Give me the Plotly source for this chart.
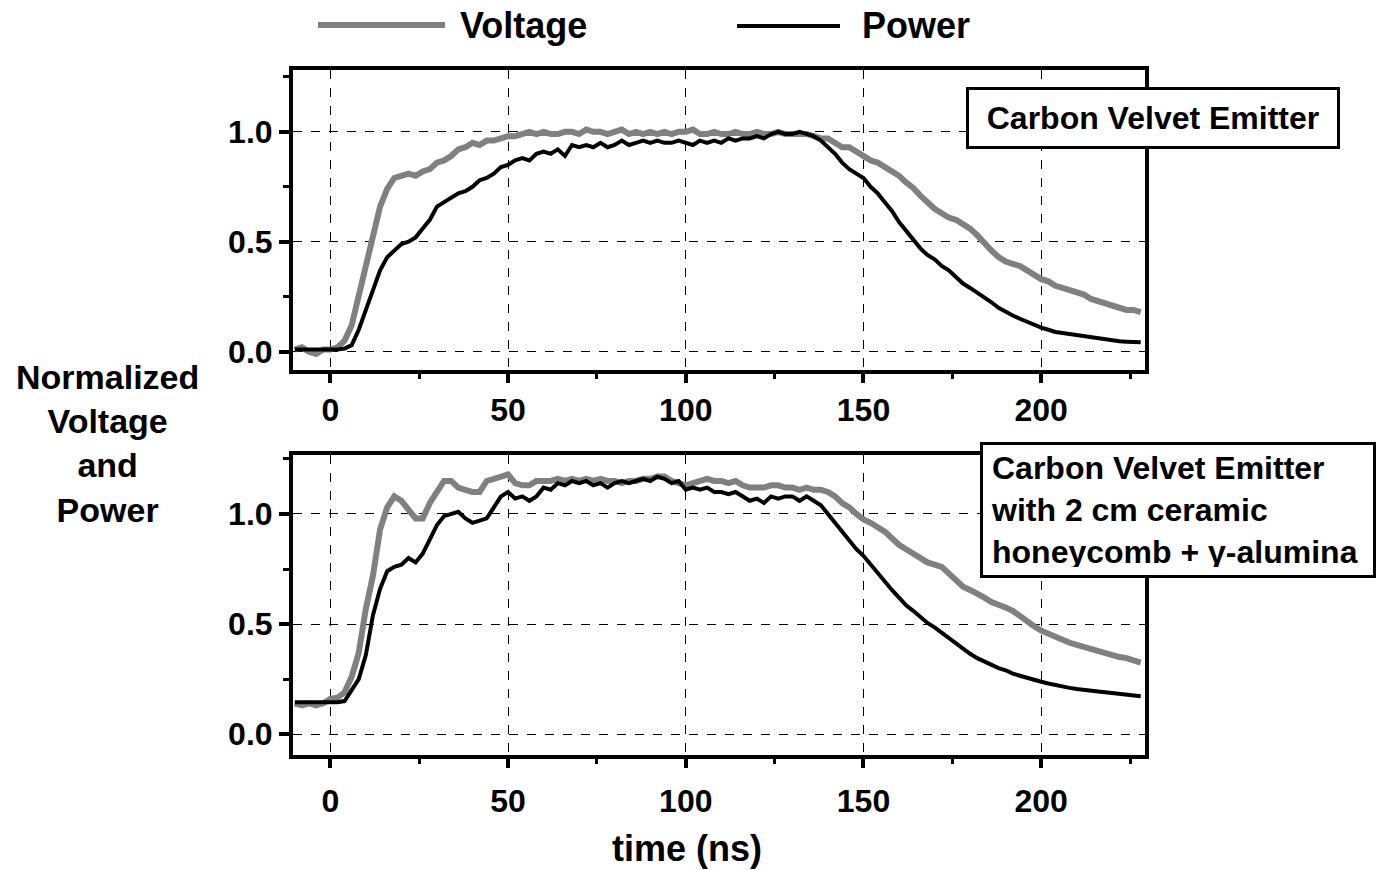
import plotly.graph_objects as go

# Shared time base (ns), 2 ns sampling
time_ns = list(range(-10, 230, 2))

# Carbon velvet emitter
voltage_cv = [
    0.01, 0.02, 0.00, -0.01, 0.01, 0.01, 0.02, 0.05, 0.12, 0.25,
    0.40, 0.53, 0.66, 0.74, 0.79, 0.80, 0.81, 0.80, 0.82, 0.83,
    0.86, 0.87, 0.89, 0.92, 0.93, 0.95, 0.94, 0.96, 0.96, 0.97,
    0.98, 0.98, 0.99, 1.00, 0.99, 1.00, 0.99, 0.99, 1.00, 1.00,
    0.99, 1.01, 1.00, 1.00, 0.99, 1.00, 1.01, 0.99, 1.00, 0.99,
    1.00, 0.99, 1.00, 0.99, 1.00, 1.00, 1.01, 0.99, 0.99, 1.00,
    0.99, 0.99, 1.00, 0.99, 0.99, 1.00, 0.99, 0.99, 1.00, 0.99,
    0.99, 0.99, 0.99, 0.98, 0.97, 0.97, 0.95, 0.93, 0.93, 0.91,
    0.89, 0.87, 0.86, 0.84, 0.82, 0.80, 0.77, 0.745, 0.71, 0.68,
    0.65, 0.63, 0.61, 0.60, 0.58, 0.56, 0.53, 0.49, 0.46, 0.43,
    0.41, 0.40, 0.39, 0.37, 0.35, 0.33, 0.32, 0.30, 0.29, 0.28,
    0.27, 0.26, 0.24, 0.23, 0.22, 0.21, 0.20, 0.19, 0.19, 0.18,
]
power_cv = [
    0.01, 0.01, 0.01, 0.01, 0.01, 0.01, 0.01, 0.015, 0.03, 0.10,
    0.19, 0.27, 0.37, 0.43, 0.46, 0.49, 0.50, 0.52, 0.56, 0.60,
    0.66, 0.68, 0.70, 0.72, 0.73, 0.75, 0.78, 0.79, 0.81, 0.84,
    0.85, 0.87, 0.88, 0.87, 0.90, 0.91, 0.90, 0.92, 0.89, 0.94,
    0.93, 0.94, 0.93, 0.95, 0.93, 0.94, 0.96, 0.94, 0.95, 0.96,
    0.95, 0.96, 0.95, 0.95, 0.96, 0.95, 0.94, 0.96, 0.95, 0.96,
    0.95, 0.97, 0.96, 0.97, 0.97, 0.98, 0.97, 0.99, 1.00, 0.99,
    0.99, 1.00, 0.99, 0.98, 0.96, 0.93, 0.90, 0.86, 0.83, 0.81,
    0.79, 0.75, 0.72, 0.68, 0.64, 0.59, 0.55, 0.51, 0.47, 0.44,
    0.42, 0.39, 0.37, 0.34, 0.31, 0.29, 0.27, 0.245, 0.225, 0.20,
    0.18, 0.165, 0.15, 0.135, 0.12, 0.11, 0.10, 0.09, 0.085, 0.08,
    0.075, 0.07, 0.064, 0.06, 0.055, 0.05, 0.048, 0.046, 0.044, 0.043,
]

# Carbon velvet emitter with ceramic honeycomb + gamma-alumina
voltage_hc = [
    0.14, 0.13, 0.14, 0.13, 0.14, 0.16, 0.165, 0.19, 0.26, 0.37,
    0.57, 0.72, 0.93, 1.03, 1.08, 1.06, 1.02, 0.98, 0.98, 1.05,
    1.10, 1.15, 1.15, 1.12, 1.11, 1.10, 1.10, 1.15, 1.16, 1.17,
    1.18, 1.14, 1.13, 1.13, 1.15, 1.15, 1.15, 1.16, 1.15, 1.16,
    1.15, 1.16, 1.15, 1.16, 1.15, 1.15, 1.14, 1.15, 1.15, 1.16,
    1.16, 1.17, 1.17, 1.15, 1.14, 1.13, 1.14, 1.15, 1.16, 1.15,
    1.15, 1.14, 1.15, 1.13, 1.12, 1.12, 1.12, 1.13, 1.13, 1.12,
    1.12, 1.11, 1.12, 1.11, 1.11, 1.10, 1.08, 1.05, 1.03, 1.00,
    0.975, 0.96, 0.94, 0.92, 0.89, 0.86, 0.84, 0.82, 0.80, 0.78,
    0.77, 0.76, 0.73, 0.70, 0.67, 0.655, 0.64, 0.62, 0.60, 0.59,
    0.575, 0.56, 0.535, 0.515, 0.49, 0.47, 0.455, 0.44, 0.43, 0.415,
    0.405, 0.395, 0.385, 0.375, 0.365, 0.36, 0.35, 0.345, 0.335, 0.325,
]
power_hc = [
    0.145, 0.145, 0.145, 0.145, 0.145, 0.145, 0.145, 0.15, 0.20, 0.25,
    0.36, 0.54, 0.66, 0.74, 0.76, 0.77, 0.80, 0.78, 0.82, 0.89,
    0.95, 0.99, 1.00, 1.01, 0.98, 0.96, 0.97, 0.98, 1.03, 1.08,
    1.10, 1.07, 1.08, 1.06, 1.08, 1.12, 1.11, 1.14, 1.13, 1.15,
    1.14, 1.15, 1.13, 1.14, 1.12, 1.14, 1.15, 1.14, 1.15, 1.16,
    1.15, 1.17, 1.16, 1.14, 1.15, 1.11, 1.12, 1.11, 1.12, 1.10,
    1.10, 1.09, 1.10, 1.08, 1.06, 1.07, 1.05, 1.08, 1.07, 1.08,
    1.08, 1.06, 1.08, 1.06, 1.04, 1.00, 0.96, 0.92, 0.88, 0.84,
    0.81, 0.77, 0.73, 0.69, 0.655, 0.62, 0.585, 0.56, 0.53, 0.505,
    0.485, 0.46, 0.435, 0.41, 0.385, 0.365, 0.345, 0.33, 0.315, 0.30,
    0.29, 0.275, 0.265, 0.255, 0.245, 0.238, 0.23, 0.222, 0.215, 0.21,
    0.205, 0.20, 0.198, 0.194, 0.19, 0.186, 0.183, 0.18, 0.175, 0.172,
]

x_ticks = [0, 50, 100, 150, 200]
y_ticks = [0.0, 0.5, 1.0]
panel_labels = [
    "Carbon Velvet Emitter",
    "Carbon Velvet Emitter<br>with 2 cm ceramic<br>honeycomb + γ-alumina",
]

W, H = 1388, 870
FONT = "Liberation Sans, Arial, sans-serif"
GRAY = "#808080"


def px_x(p):
    return p / W


def px_y(p):
    return 1 - p / H


fig = go.Figure()

series = [
    ("x", "y", voltage_cv, power_cv),
    ("x2", "y2", voltage_hc, power_hc),
]
for xa, ya, v, p in series:
    fig.add_trace(go.Scatter(x=time_ns, y=v, mode="lines", xaxis=xa, yaxis=ya,
                             line=dict(color=GRAY, width=6), showlegend=False))
    fig.add_trace(go.Scatter(x=time_ns, y=p, mode="lines", xaxis=xa, yaxis=ya,
                             line=dict(color="black", width=4), showlegend=False))

xdomain = [px_x(293), px_x(1145)]

common_x = dict(
    range=[-10.5, 229.2], domain=xdomain, tickvals=x_ticks,
    showline=True, linewidth=4, linecolor="black", mirror=True,
    ticks="outside", ticklen=9, tickwidth=4, tickcolor="black",
    minor=dict(ticks="outside", ticklen=5, tickwidth=3, tickcolor="black", dtick=25, tick0=0),
    showgrid=True, gridcolor="black", gridwidth=1, griddash="dash",
    zeroline=False,
    tickfont=dict(family=FONT, size=32, color="black", weight="bold"),
)
common_y = dict(
    tickvals=y_ticks, tickformat=".1f",
    showline=True, linewidth=4, linecolor="black", mirror=True,
    ticks="outside", ticklen=10, tickwidth=4, tickcolor="black",
    minor=dict(ticks="outside", ticklen=6, tickwidth=3, tickcolor="black", dtick=0.25, tick0=0),
    showgrid=True, gridcolor="black", gridwidth=1, griddash="dash",
    zeroline=False,
    tickfont=dict(family=FONT, size=32, color="black", weight="bold"),
)

fig.update_layout(
    width=W, height=H,
    margin=dict(l=0, r=0, t=0, b=0),
    paper_bgcolor="white", plot_bgcolor="white",
    xaxis=dict(common_x, anchor="y"),
    yaxis=dict(common_y, range=[-0.083, 1.281], domain=[px_y(370), px_y(70)], anchor="x"),
    xaxis2=dict(common_x, anchor="y2", ticklabelstandoff=6),
    yaxis2=dict(common_y, range=[-0.095, 1.268], domain=[px_y(755), px_y(455)], anchor="x2"),
)

# Legend drawn across the top
fig.add_shape(type="line", xref="paper", yref="paper",
              x0=px_x(318), x1=px_x(445), y0=px_y(25), y1=px_y(25),
              line=dict(color=GRAY, width=6))
fig.add_shape(type="line", xref="paper", yref="paper",
              x0=px_x(737), x1=px_x(840), y0=px_y(26), y1=px_y(26),
              line=dict(color="black", width=4))

big = dict(family=FONT, size=36, color="black", weight="bold")
ytitle = dict(family=FONT, size=34, color="black", weight="bold")
box = dict(family=FONT, size=32, color="black", weight="bold")

annotations = [
    dict(text="Voltage", x=px_x(458), y=px_y(25), xanchor="left", yanchor="middle", font=big),
    dict(text="Power", x=px_x(860), y=px_y(25), xanchor="left", yanchor="middle", font=big),
    dict(text="Normalized<br>Voltage<br>and<br>Power", x=px_x(107), y=px_y(443),
         xanchor="center", yanchor="middle", font=ytitle),
    dict(text="time (ns)", x=px_x(687), y=px_y(848), xanchor="center", yanchor="middle", font=big),
    dict(text=panel_labels[0], x=px_x(1153), y=px_y(118), xanchor="center", yanchor="middle",
         font=box, bgcolor="white", bordercolor="black", borderwidth=3, borderpad=8,
         width=352, height=40, align="center"),
    dict(text=panel_labels[1], x=px_x(1178), y=px_y(510), xanchor="center", yanchor="middle",
         font=box, bgcolor="white", bordercolor="black", borderwidth=3, borderpad=8,
         width=374, height=114, align="left"),
]
for a in annotations:
    fig.add_annotation(xref="paper", yref="paper", showarrow=False, **a)

fig.write_html("out.html")
